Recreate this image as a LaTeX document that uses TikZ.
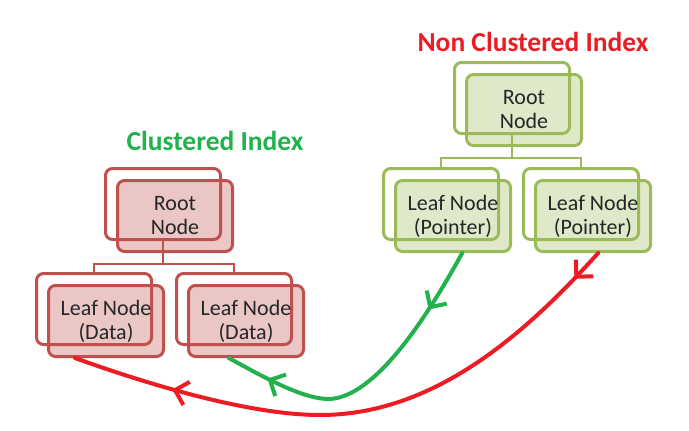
\documentclass[tikz,border=0pt]{standalone}
\usepackage{fontspec}
\setmainfont{Carlito}
\usetikzlibrary{arrows.meta,decorations.markings}
\definecolor{boxred}{RGB}{192,80,77}
\definecolor{boxgreen}{RGB}{155,187,89}
\definecolor{inkred}{RGB}{237,28,36}
\definecolor{inkgreen}{RGB}{34,177,76}
\begin{document}
\begin{tikzpicture}[x=1pt, y=-1pt,
  back/.style={rectangle, rounded corners=7pt, draw, line width=3pt, fill=white, minimum width=115pt, minimum height=71pt},
  front/.style={back, fill opacity=0.32, text opacity=1, text=black!85, align=center, font=\fontsize{22}{24}\selectfont},
  title/.style={font=\fontsize{27.5}{30}\selectfont\bfseries}]
\tikzset{redback/.style={back, draw=boxred}, redfront/.style={front, draw=boxred, fill=boxred},
  greenback/.style={back, draw=boxgreen}, greenfront/.style={front, draw=boxgreen, fill=boxgreen},
  link/.style={line width=2.6pt},
  flow/.style={line width=4pt, line cap=round, postaction={decorate}},
  barbtip/.tip={Straight Barb[length=12pt, width=24pt]}}
\useasboundingbox (0,0) rectangle (689,431);

% clustered index
\node[redback] (cRootB) at (163,204) {};
\node[redback] (cLeafB1) at (94,309) {};
\node[redback] (cLeafB2) at (234,309) {};
\draw[link, boxred] (cRootB.south) -- ++(0,23) coordinate (cMid)
  (cMid) -| (cLeafB1.north)
  (cMid) -| (cLeafB2.north);
\node[redfront] (cRoot) at (175,216) {Root\\Node};
\node[redfront] (cLeaf1) at (106,321) {Leaf Node\\(Data)};
\node[redfront] (cLeaf2) at (246,321) {Leaf Node\\(Data)};
\node[title, text=inkgreen] (cTitle) at (215,141) {Clustered Index};

% non clustered index
\node[greenback] (nRootB) at (512,98) {};
\node[greenback] (nLeafB1) at (441,204) {};
\node[greenback] (nLeafB2) at (581,204) {};
\draw[link, boxgreen] (nRootB.south) -- ++(0,23) coordinate (nMid)
  (nMid) -| (nLeafB1.north)
  (nMid) -| (nLeafB2.north);
\node[greenfront] (nRoot) at (524,110) {Root\\Node};
\node[greenfront] (nLeaf1) at (453,216) {Leaf Node\\(Pointer)};
\node[greenfront] (nLeaf2) at (593,216) {Leaf Node\\(Pointer)};
\node[title, text=inkred] (nTitle) at (533,42) {Non Clustered Index};

% pointers to data
\draw[flow, inkgreen, decoration={markings,
    mark=at position 0.21 with {\arrow{barbtip}},
    mark=at position 0.86 with {\arrow{barbtip}}}]
  (nLeaf1.-76) .. controls (420,330) and (370,400) .. (327,399)
  .. controls (300,398) and (260,375) .. (cLeaf2.-115);
\draw[flow, inkred, decoration={markings,
    mark=at position 0.06 with {\arrow{barbtip}},
    mark=at position 0.825 with {\arrow{barbtip}}}]
  (nLeaf2.-82) .. controls (520,340) and (430,415) .. (320,415)
  .. controls (250,415) and (150,385) .. (cLeaf1.-130);
\end{tikzpicture}
\end{document}
